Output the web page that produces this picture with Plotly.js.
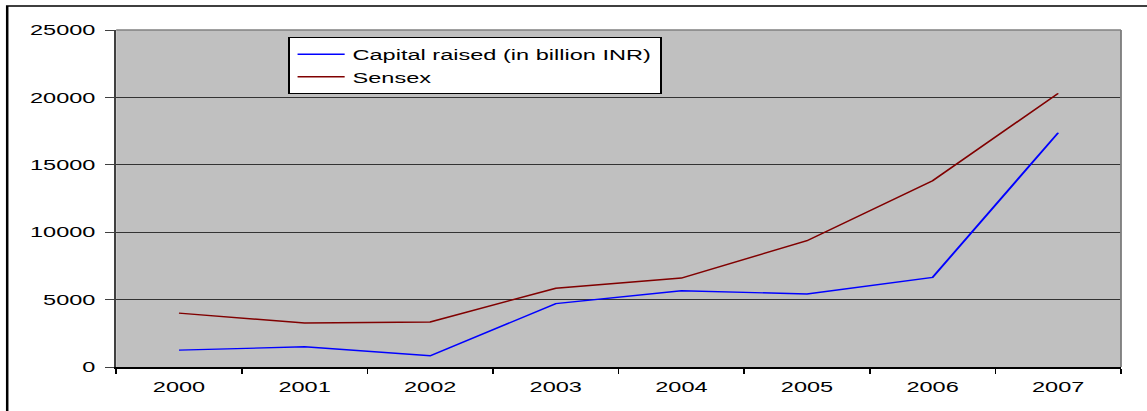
<!DOCTYPE html>
<html><head><meta charset="utf-8">
<script src="https://cdn.plot.ly/plotly-3.0.1.min.js"></script>
<style>
html,body{margin:0;padding:0;background:#fff;overflow:hidden;}
#wrap{width:1147px;height:411px;overflow:hidden;position:relative;}
#chart{position:absolute;left:0;top:0;transform-origin:0 0;}
</style>
</head><body><div id="wrap"><div id="chart"></div></div>
<script>
const years = ['2000','2001','2002','2003','2004','2005','2006','2007'];
const capitalRaised = [1250, 1500, 830, 4700, 5660, 5420, 6650, 17380];
const sensex = [4000, 3260, 3340, 5840, 6600, 9370, 13820, 20300];
const yTicks = [0, 5000, 10000, 15000, 20000, 25000];

// the reference picture is stretched horizontally; draw narrower and stretch
const SX = 1.57;
const W = 1147, H = 411, L = 116, R = 26, T = 30, B = 44;
const pw = W - L - R, ph = H - T - B;
const px = v => (v - L) / pw, py = v => (H - B - v) / ph;
const chartDiv = document.getElementById('chart');
chartDiv.style.transform = 'scaleX(' + SX + ')';

const traces = [
  {x: years, y: capitalRaised, type: 'scatter', mode: 'lines', name: 'Capital raised (in billion INR)',
   line: {color: '#0000FF', width: 1.4}},
  {x: years, y: sensex, type: 'scatter', mode: 'lines', name: 'Sensex',
   line: {color: '#800000', width: 1.4}}
];

const layout = {
  width: W / SX, height: H,
  margin: {l: L / SX, r: R / SX, t: T, b: B, pad: 0},
  paper_bgcolor: '#ffffff', plot_bgcolor: '#C0C0C0',
  font: {family: 'Liberation Sans, Arial, sans-serif', size: 15, color: '#000'},
  showlegend: true,
  legend: {x: px(288), y: py(37), xanchor: 'left', yanchor: 'top',
    bgcolor: '#ffffff', bordercolor: '#000', borderwidth: 1,
    font: {size: 15}, tracegroupgap: 0, itemwidth: 30},
  xaxis: {type: 'category', range: [-0.5, 7.5], tickson: 'boundaries',
    ticks: 'outside', ticklen: 5, tickcolor: '#000', tickwidth: 1, showline: true, linecolor: '#000', linewidth: 1.5,
    showgrid: false, zeroline: false, fixedrange: true, ticklabelstandoff: 6},
  yaxis: {range: [0, 25000], tickvals: yTicks, ticktext: yTicks.map(String),
    ticks: 'outside', ticklen: 6, tickcolor: '#404040', tickwidth: 1, showline: true, linecolor: '#404040', linewidth: 1.2,
    showgrid: true, gridcolor: '#333', gridwidth: 1, zeroline: false, ticklabelstandoff: 3},
  shapes: [
    {type: 'line', xref: 'paper', yref: 'paper', x0: 0, x1: 1, y0: 1, y1: 1, line: {color: '#808080', width: 1.5}},
    {type: 'line', xref: 'paper', yref: 'paper', x0: 1, x1: 1, y0: 0, y1: 1, line: {color: '#808080', width: 1.2}},
    {type: 'rect', xref: 'paper', yref: 'paper', x0: px(7), x1: px(1160), y0: py(6), y1: py(430),
     line: {color: '#000', width: 1.6}, fillcolor: 'rgba(0,0,0,0)'}
  ]
};

Plotly.newPlot(chartDiv, traces, layout, {displayModeBar: false, staticPlot: true});
</script></body></html>
